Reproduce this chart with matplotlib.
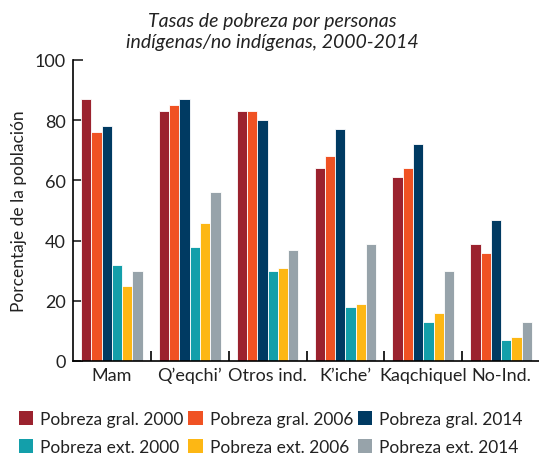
import numpy as np
import matplotlib
matplotlib.use("Agg")
import matplotlib.pyplot as plt
from matplotlib.patches import Patch

plt.rcParams['font.family'] = ['Lato', 'DejaVu Sans']

# data
categories = ["Mam", "Q\u2019eqchi\u2019", "Otros ind.", "K\u2019iche\u2019", "Kaqchiquel", "No-Ind."]
series_names = ["Pobreza gral. 2000", "Pobreza gral. 2006", "Pobreza gral. 2014",
                "Pobreza ext. 2000", "Pobreza ext. 2006", "Pobreza ext. 2014"]
gral_2000 = [87, 83, 83, 64, 61, 39]
gral_2006 = [76, 85, 83, 68, 64, 36]
gral_2014 = [78, 87, 80, 77, 72, 47]
ext_2000 = [32, 38, 30, 18, 13, 7]
ext_2006 = [25, 46, 31, 19, 16, 8]
ext_2014 = [30, 56, 37, 39, 30, 13]
yticks = [0, 20, 40, 60, 80, 100]

colors = ["#9b222e", "#f05223", "#003a62", "#139faa", "#fdb714", "#97a3aa"]
series = [gral_2000, gral_2006, gral_2014, ext_2000, ext_2006, ext_2014]

fig = plt.figure(figsize=(5.39, 4.56), dpi=100)
ax = fig.add_axes([73 / 539, 1 - 362 / 456, 467 / 539, 301 / 456])

x = np.arange(len(categories))
w = 0.132
for i, (vals, col, name) in enumerate(zip(series, colors, series_names)):
    ax.bar(x + (i - 2.5) * w, vals, width=w, color=col, edgecolor="white",
           linewidth=0.6, label=name, zorder=2)

ax.set_xlim(-0.5, len(categories) - 0.5)
ax.set_ylim(0, 100)
ax.set_yticks(yticks)
ax.set_xticks(x)
ax.set_xticklabels(categories)
ax.set_xticks(x[1:] - 0.5, minor=True)
ax.tick_params(axis="x", which="major", length=0, labelsize=13, pad=4, colors="#222222")
ax.tick_params(axis="x", which="minor", direction="in", length=7, width=1.2)
ax.tick_params(axis="y", direction="in", length=7, width=1.2, labelsize=13, pad=5, colors="#222222")
for s in ["top", "right"]:
    ax.spines[s].set_visible(False)
for s in ["left", "bottom"]:
    ax.spines[s].set_linewidth(1.2)
ax.set_ylabel("Porcentaje de la población", fontsize=12.5, labelpad=6, color="#222222")

fig.text(272 / 539, 1 - 32 / 456, "Tasas de pobreza por personas\nindígenas/no indígenas, 2000-2014",
         ha="center", va="center", fontsize=14, style="italic", linespacing=1.35, color="#222222")

# legend: rows = gral / ext
order = [0, 3, 1, 4, 2, 5]
handles = [Patch(facecolor=colors[k], edgecolor="none") for k in order]
labels = [series_names[k] for k in order]
fig.legend(handles, labels, ncol=3, loc="center left", bbox_to_anchor=(10 / 539, 1 - 434 / 456),
           frameon=False, fontsize=12.5, handlelength=0.85, handleheight=0.85,
           handletextpad=0.4, columnspacing=0.25, labelspacing=0.65, borderpad=0,
           labelcolor="#222222")

fig.savefig("out.png", dpi=100)
